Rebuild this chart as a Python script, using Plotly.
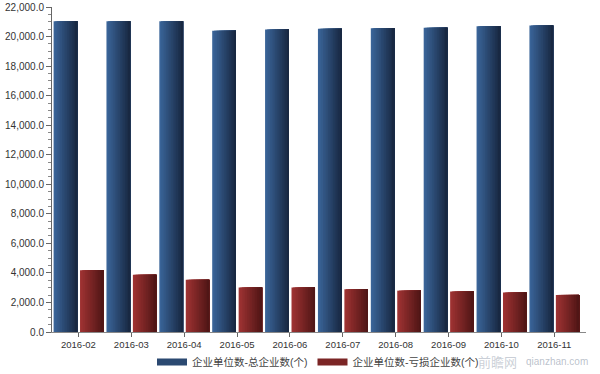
import plotly.graph_objects as go

categories = ["2016-02", "2016-03", "2016-04", "2016-05", "2016-06",
              "2016-07", "2016-08", "2016-09", "2016-10", "2016-11"]
total_enterprises = [21040, 21040, 21040, 20390, 20470, 20520, 20560, 20590, 20690, 20740]
loss_enterprises = [4180, 3870, 3530, 3010, 3010, 2900, 2800, 2740, 2670, 2510]
series_names = ["企业单位数-总企业数(个)", "企业单位数-亏损企业数(个)"]

FONT = "Liberation Sans, Arial, Noto Sans CJK SC, sans-serif"


def lerp(c1, c2, t):
    return "rgb(%d,%d,%d)" % tuple(round(a + (b - a) * t) for a, b in zip(c1, c2))


fig = go.Figure()

specs = [
    (total_enterprises, series_names[0], (58, 100, 152), (24, 40, 66), -0.47, -0.02),
    (loss_enterprises, series_names[1], (158, 50, 50), (80, 22, 22), 0.03, 0.475),
]
N = 14
for vals, name, c_left, c_right, a, b in specs:
    step = (b - a) / N
    for k in range(N):
        start = a + k * step
        fig.add_trace(go.Bar(
            x=categories, y=vals, name=name,
            offset=start, width=b - start,
            marker=dict(color=lerp(c_left, c_right, k / (N - 1)), line=dict(width=0)),
            showlegend=False, hoverinfo="skip" if k else None,
        ))

for vals, name, c_left, c_right, a, b in specs:
    fig.add_trace(go.Scatter(
        x=[None], y=[None], name=name, mode="lines",
        line=dict(color=lerp(c_left, c_right, 0.45), width=7),
        showlegend=True,
    ))

fig.update_layout(
    width=600, height=374,
    barmode="overlay",
    plot_bgcolor="white", paper_bgcolor="white",
    margin=dict(l=52, r=14, t=7, b=42, autoexpand=False),
    font=dict(family=FONT, size=11, color="#333333"),
    legend=dict(orientation="h", xref="container", yref="container",
                x=152 / 600, xanchor="left", y=12 / 374, yanchor="middle",
                font=dict(size=10.5, color="#444444"), itemwidth=30,
                traceorder="normal"),
    xaxis=dict(
        type="category", showline=True, linecolor="#888888", linewidth=1,
        ticks="outside", ticklen=4, tickcolor="#666666",
        tickfont=dict(size=9.5, color="#333333"), showgrid=False,
        range=[-0.5, 9.6], automargin=False,
    ),
    yaxis=dict(
        range=[0, 22000], dtick=2000, tickformat=",.1f",
        showline=True, linecolor="#666666", linewidth=1,
        ticks="outside", ticklen=5, tickcolor="#666666",
        minor=dict(ticks="outside", dtick=500, ticklen=3, tickcolor="#888888"),
        showgrid=False, zeroline=False, automargin=False,
        tickfont=dict(size=10, color="#333333"),
    ),
)

# faint watermark (site logo text)
fig.add_annotation(text="前瞻网", xref="paper", yref="paper",
                   x=0.835, y=-0.092, xanchor="center", yanchor="middle", showarrow=False,
                   font=dict(size=13, color="rgba(150,160,175,0.5)",
                             family="Noto Sans CJK SC"))
fig.add_annotation(text="qianzhan.com", xref="paper", yref="paper",
                   x=0.884, y=-0.092, xanchor="left", yanchor="middle", showarrow=False,
                   font=dict(size=10, color="rgba(150,160,175,0.65)", family=FONT))

fig.write_html("out.html", config={"displayModeBar": False},
               post_script="document.body.style.margin='0';")
